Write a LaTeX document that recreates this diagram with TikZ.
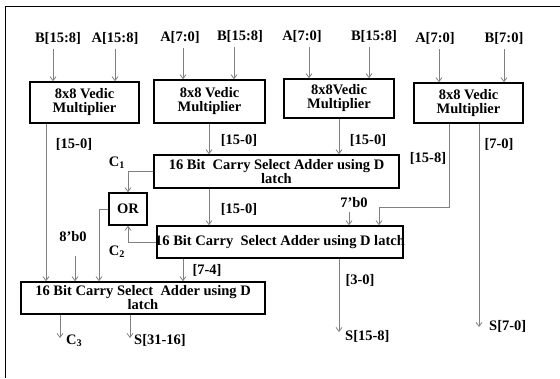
\documentclass[tikz,border=0pt]{standalone}
\usepackage{fontspec}
\setmainfont{Liberation Serif}
\usetikzlibrary{arrows.meta}
\newcommand\dgfont{\fontsize{14.5}{14}\selectfont\bfseries}
\definecolor{wire}{RGB}{128,128,128}
\begin{document}
\begin{tikzpicture}[x=1pt,y=-1pt,
  box/.style={draw=black,line width=1.6pt,inner sep=0pt,align=center,font=\dgfont},
  arr/.style={draw=wire,line width=0.8pt,-{Straight Barb[length=4pt,width=6pt]}},
  wire/.style={draw=wire,line width=0.8pt},
  lbl/.style={font=\dgfont,inner sep=0pt}]
\useasboundingbox (0,0) rectangle (560,378);
% frame
\draw[line width=1.3pt] (5.5,378) -- (5.5,6.5) -- (560,6.5);

% multipliers
\node[box,minimum width=109pt,minimum height=41pt] (m1) at (84.5,102.5) {8x8 Vedic\\Multiplier};
\node[box,minimum width=111pt,minimum height=43pt] (m2) at (209.5,101.5) {8x8 Vedic\\Multiplier};
\node[box,minimum width=110pt,minimum height=39pt] (m3) at (339,98.5) {8x8Vedic\\Multiplier};
\node[box,minimum width=109pt,minimum height=40pt] (m4) at (468.5,103) {8x8 Vedic\\Multiplier};

% adders and OR
\node[box,minimum width=245pt,minimum height=33pt] (c1) at (276.5,171.5) {16 Bit\ \ Carry Select Adder using D\\latch};
\node[box,minimum width=38pt,minimum height=32pt] (orb) at (128,209) {OR};
\node[box,minimum width=246pt,minimum height=32pt,inner xsep=-3pt] (c2) at (280,242) {16 Bit Carry\ \ Select Adder using D latch};
\node[box,minimum width=244pt,minimum height=32pt] (c3) at (143,298) {16 Bit Carry Select\ \ Adder using D\\latch};

% input labels
\node[lbl] (tB1) at (58,38) {B[15:8]};
\node[lbl] (tA1) at (115,38) {A[15:8]};
\node[lbl] (tA2) at (180,37) {A[7:0]};
\node[lbl] (tB2) at (240,36) {B[15:8]};
\node[lbl] (tA3) at (302,36) {A[7:0]};
\node[lbl] (tB3) at (374,36) {B[15:8]};
\node[lbl] (tA4) at (435,38) {A[7:0]};
\node[lbl] (tB4) at (504,38) {B[7:0]};

% x positions of wires
\coordinate (xB1) at (53,0);
\coordinate (xA1) at (115,0);
\coordinate (xA2) at (183,0);
\coordinate (xB2) at (234,0);
\coordinate (xA3) at (309,0);
\coordinate (xB3) at (369,0);
\coordinate (xA4) at (439,0);
\coordinate (xB4) at (504,0);

\draw[arr] (xB1 |- tB1.south) ++(0,5) -- (xB1 |- m1.north);
\draw[arr] (xA1 |- tA1.south) ++(0,5) -- (xA1 |- m1.north);
\draw[arr] (xA2 |- tA2.south) ++(0,5) -- (xA2 |- m2.north);
\draw[arr] (xB2 |- tB2.south) ++(0,5) -- (xB2 |- m2.north);
\draw[arr] (xA3 |- tA3.south) ++(0,5) -- (xA3 |- m3.north);
\draw[arr] (xB3 |- tB3.south) ++(0,5) -- (xB3 |- m3.north);
\draw[arr] (xA4 |- tA4.south) ++(0,5) -- (xA4 |- m4.north);
\draw[arr] (xB4 |- tB4.south) ++(0,5) -- (xB4 |- m4.north);

% multiplier outputs
\coordinate (x46) at (46,0);
\coordinate (x209) at (209,0);
\coordinate (x339) at (339,0);
\coordinate (k1) at (449,207);
\coordinate (k2) at (379,207);
\coordinate (e4) at (479,327);
\draw[arr] (m1.south -| x46) -- (c3.north -| x46);
\draw[arr] (m2.south -| x209) -- (c1.north -| x209);
\draw[arr] (m3.south -| x339) -- (c1.north -| x339);
\draw[arr] (m4.south -| k1) -- (k1) -- (k2) -- (c2.north -| k2);
\draw[arr] (m4.south -| e4) -- (e4);

\node[lbl] (l1) at (74,144) {[15-0]};
\node[lbl] (l2) at (239,140) {[15-0]};
\node[lbl] (l3) at (368,140) {[15-0]};
\node[lbl] (l4) at (428,158) {[15-8]};
\node[lbl] (l5) at (499,144) {[7-0]};
\node[lbl,anchor=west] (s4) at (489,326) {S[7-0]};

% adder chain
\draw[arr] (c1.south -| x209) -- (c2.north -| x209);
\node[lbl] (l6) at (239,209) {[15-0]};
\draw[arr] (c1.west) -| (orb.north);
\node[lbl] (lc1) at (117,163) {C\textsubscript{1}};
\draw[arr] (c2.west) -| (orb.south);
\node[lbl] (lc2) at (117,252) {C\textsubscript{2}};
\coordinate (x99) at (99,0);
\draw[arr] (orb.west) -| (c3.north -| x99);

\node[lbl] (z8) at (73,237) {8’b0};
\coordinate (x75) at (75,0);
\draw[arr] (x75 |- z8.south) ++(0,14) -- (c3.north -| x75);
\node[lbl] (z7) at (354,203) {7’b0};
\coordinate (x349) at (349,0);
\draw[arr] (x349 |- z7.south) ++(0,4) -- (c2.north -| x349);

\coordinate (x183) at (183,0);
\draw[arr] (c2.south -| x183) -- (c3.north -| x183);
\node[lbl] (l7) at (207,270) {[7-4]};
\coordinate (e2) at (339,332);
\draw[arr] (c2.south -| e2) -- (e2);
\node[lbl] (l8) at (360,280) {[3-0]};
\node[lbl,anchor=west] (s2) at (345,336) {S[15-8]};

% final outputs
\coordinate (e3a) at (60,338);
\coordinate (e3b) at (130,338);
\draw[arr] (c3.south -| e3a) -- (e3a);
\draw[arr] (c3.south -| e3b) -- (e3b);
\node[lbl,anchor=west] (s3a) at (66,341) {C\textsubscript{3}};
\node[lbl,anchor=west] (s3b) at (134,340) {S[31-16]};
\end{tikzpicture}
\end{document}
